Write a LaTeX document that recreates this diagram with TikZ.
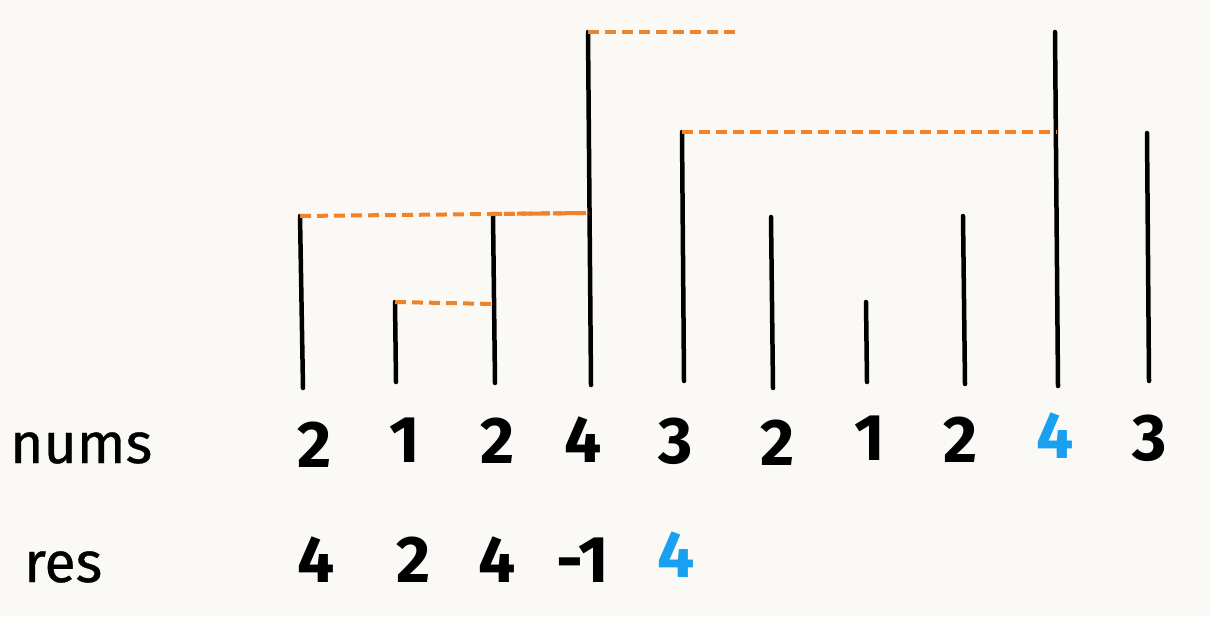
\documentclass[tikz,border=0pt]{standalone}
\usepackage{fontspec}
\setmainfont{Fira Sans}
\definecolor{bgc}{HTML}{FAF9F6}
\definecolor{orng}{HTML}{F08228}
\definecolor{blu}{HTML}{1AA0F0}
\tikzset{
  bar/.style={line width=4.5pt, black, line cap=round},
  link/.style={line width=4pt, orng, dash pattern=on 11pt off 6pt},
  dlink/.style={line width=4pt, orng, dash pattern=on 9pt off 3pt},
  lbl/.style={inner sep=0pt, anchor=base west, font=\fontsize{57}{60}\selectfont\addfontfeatures{FakeBold=0.6}},
  num/.style={inner sep=0pt, anchor=base, font=\fontsize{66}{70}\selectfont\bfseries},
}
\begin{document}
\begin{tikzpicture}[x=1pt,y=-1pt]
\fill[bgc] (0,0) rectangle (1210,616);
\useasboundingbox (0,0) rectangle (1210,616);
% bars
\coordinate (t1) at (300,216);  \coordinate (b1) at (303,388);
\coordinate (t2) at (395,302);  \coordinate (b2) at (396,382);
\coordinate (t3) at (493,214);  \coordinate (b3) at (495,383);
\coordinate (t4) at (588,32);   \coordinate (b4) at (591,385);
\coordinate (t5) at (682,132);  \coordinate (b5) at (684,381);
\coordinate (t6) at (771,217);  \coordinate (b6) at (773,388);
\coordinate (t7) at (866,302);  \coordinate (b7) at (867,382);
\coordinate (t8) at (963,216);  \coordinate (b8) at (965,384);
\coordinate (t9) at (1055,32);  \coordinate (b9) at (1058,386);
\coordinate (t10) at (1147,133); \coordinate (b10) at (1149,381);
\foreach \i in {1,...,10} \draw[bar] (t\i) -- (b\i);
% links
\coordinate (a4) at (589,213);
\coordinate (a3) at (494,304);
\coordinate (a9) at (1057,132);
\coordinate (free) at (736,32);
\draw[link] (t1) -- (a4);
\draw[dlink] (t3) -- (a4);
\draw[link] (t2) -- (a3);
\draw[link] (t4) -- (free);
\draw[link] (t5) -- (a9);
% labels
\node[lbl] (nums) at (10,463) {nums};
\node[lbl] (res) at (24,582) {res};
\node[num] (n1) at (315,467) {2};
\node[num] (n2) at (405,462) {1};
\node[num] (n3) at (498,463) {2};
\node[num] (n4) at (583,462) {4};
\node[num] (n5) at (676,463) {3};
\node[num] (n6) at (778,465) {2};
\node[num] (n7) at (870,460) {1};
\node[num] (n8) at (961,462) {2};
\node[num, blu] (n9) at (1055,458) {4};
\node[num] (n10) at (1150,460) {3};
\node[num] (r1) at (316,582) {4};
\node[num] (r2) at (414,582) {2};
\node[num] (r3) at (497,582) {4};
\node[num] (r4) at (583,582) {-1};
\node[num, blu] (r5) at (676,577) {4};
\end{tikzpicture}
\end{document}
